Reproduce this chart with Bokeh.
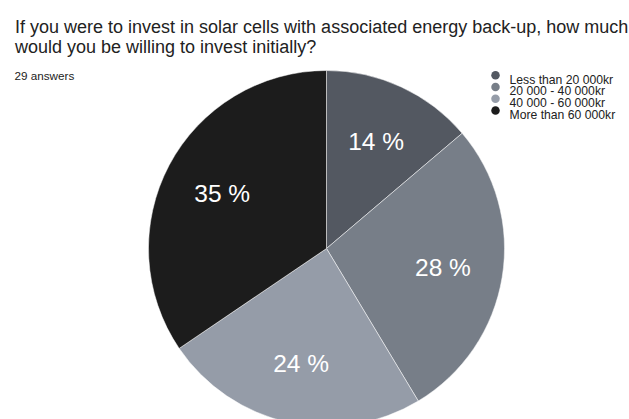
import numpy as np
from bokeh.plotting import figure
from bokeh.models import Range1d, ColumnDataSource
from bokeh.core.properties import value
from bokeh.embed import file_html
from bokeh.resources import INLINE

# ---- data ----
categories = ["Less than 20 000kr", "20 000 - 40 000kr", "40 000 - 60 000kr", "More than 60 000kr"]
counts = [4, 8, 7, 10]
pct_labels = ["14 %", "28 %", "24 %", "35 %"]
colors = ["#535861", "#777e88", "#959ca8", "#1c1c1c"]
title_lines = ["If you were to invest in solar cells with associated energy back-up, how much",
               "would you be willing to invest initially?"]
subtitle = "29 answers"

W, H = 629, 419
FONT = value("Liberation Sans")

p = figure(width=W, height=H, output_backend="svg", toolbar_location=None,
           x_range=Range1d(0, W), y_range=Range1d(0, H), min_border=0)
p.axis.visible = False
p.grid.visible = False
p.outline_line_color = None
p.background_fill_color = "white"

def Y(py):
    return H - py

# pie geometry
cx, cy, r = 326, Y(248), 178
total = sum(counts)
fr = np.array(counts) / total
cum = np.concatenate([[0], np.cumsum(fr)])
start = np.pi / 2 - cum[:-1] * 2 * np.pi
end = np.pi / 2 - cum[1:] * 2 * np.pi
src = ColumnDataSource(dict(start=start, end=end, color=colors))
p.wedge(x=cx, y=cy, radius=r, start_angle="start", end_angle="end",
        direction="clock", fill_color="color", line_color="white", line_width=0.5, source=src)

mid = (start + end) / 2
lr = 0.663 * r
lsrc = ColumnDataSource(dict(x=cx + lr * np.cos(mid), y=cy + lr * np.sin(mid), t=pct_labels))
p.text(x="x", y="y", text="t", source=lsrc, text_color="white", text_font=FONT,
       text_font_size="24.5px", text_align="center", text_baseline="middle")

# title
p.text(x=[14.5, 14.5], y=[Y(26.7), Y(46.2)], text=title_lines, text_font=FONT, text_font_size="18px",
       text_color="#222222", text_baseline="alphabetic")
p.text(x=[14], y=[Y(74.5)], text=[subtitle], text_font=FONT, text_font_size="11.7px",
       text_color="#222222", text_baseline="alphabetic")

# legend
ly_px = [74.7, 86.5, 98.3, 110.0]
ly = [Y(v) for v in ly_px]
lt = [Y(v + 4.4) for v in ly_px]
p.scatter(x=[495] * 4, y=ly, size=8.5, marker="circle", fill_color=colors, line_color=None)
p.text(x=[509] * 4, y=lt, text=categories, text_font=FONT, text_font_size="12.2px",
       text_color="#222222", text_baseline="alphabetic")

open("out.html", "w").write(file_html(p, INLINE))
